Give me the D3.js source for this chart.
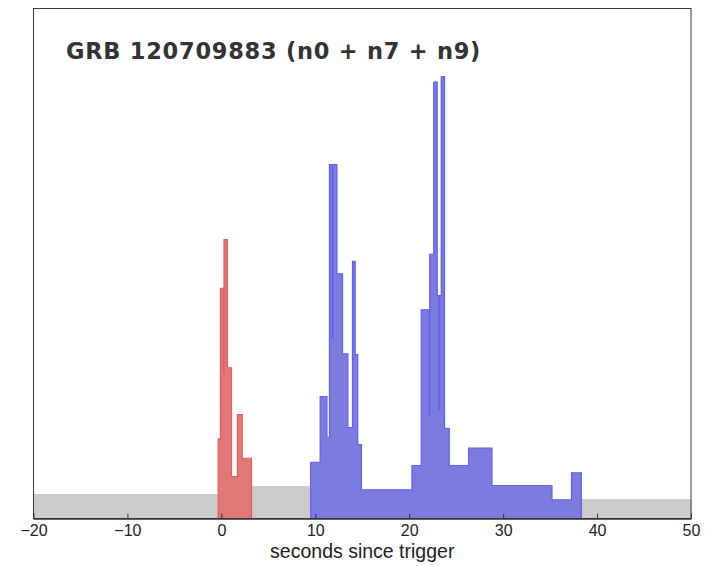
<!DOCTYPE html>
<html>
<head>
<meta charset="utf-8">
<script src="https://cdn.jsdelivr.net/npm/d3@7/dist/d3.min.js"></script>
<style>
  html, body { margin: 0; padding: 0; background: #ffffff; }
  svg { display: block; }
</style>
</head>
<body>
<svg id="chart" width="705" height="566"></svg>
<script>
// ---- data (time in seconds since trigger, counts in arbitrary rate units) ----
const title = "GRB 120709883 (n0 + n7 + n9)";
const xLabel = "seconds since trigger";
const xTicks = [-20, -10, 0, 10, 20, 30, 40, 50];

// background intervals (grey)
const bkgEdges = [[-20, -0.34], [3.21, 9.51], [38.32, 50]];
const bkgCounts = [96, 127, 75];

// first emission episode (red)
const redEdges  = [-0.34, -0.10, 0.22, 0.28, 0.65, 1.08, 1.71, 2.22, 3.21];
const redCounts = [319, 921, 580, 1116, 603, 168, 416, 241];

// second emission episode (blue)
const blueEdges = [9.51, 10.52, 11.24, 11.51, 11.81, 11.86, 12.30, 12.90, 13.47, 13.96, 14.25, 14.52, 14.92,
                   20.29, 21.28, 22.13, 22.18, 22.61, 22.98, 23.17, 23.23, 23.41, 23.76, 24.26, 26.32, 28.81, 35.20, 37.28, 38.32];
const blueCounts = [225, 488, 325, 1416, 725, 1416, 979, 659, 364, 1029, 656, 296, 115,
                    212, 835, 408, 1057, 1746, 892, 432, 892, 1768, 361, 212, 282, 132, 75, 183];

// ---- layout ----
const svg = d3.select("#chart");
const padL = 33.5, padR = 691, padT = 8.5, padB = 518.5;

const x = d3.scaleLinear().domain([-20, 50]).range([padL, padR]);
const y = d3.scaleLinear().domain([0, 2040]).range([padB, padT]);

function stepPoints(edges, counts) {
  const pts = counts.map((c, i) => [edges[i], c]);
  pts.push([edges[edges.length - 1], counts[counts.length - 1]]);
  return pts;
}

const area = d3.area()
  .x(d => x(d[0]))
  .y0(y(0))
  .y1(d => y(d[1]))
  .curve(d3.curveStepAfter);

// grey background
bkgEdges.forEach((e, i) => {
  svg.append("path")
    .datum([[e[0], bkgCounts[i]], [e[1], bkgCounts[i]]])
    .attr("d", area)
    .attr("fill", "#cccccc")
    .attr("stroke", "#c4c4c4")
    .attr("stroke-width", 1);
});

// red
svg.append("path")
  .datum(stepPoints(redEdges, redCounts))
  .attr("d", area)
  .attr("fill", "#e07878")
  .attr("stroke", "#e35d5d")
  .attr("stroke-width", 1.2);

// blue
svg.append("path")
  .datum(stepPoints(blueEdges, blueCounts))
  .attr("d", area)
  .attr("fill", "#7b7be0")
  .attr("stroke", "#5f5ff0")
  .attr("stroke-width", 1.2);

// frame
svg.append("rect")
  .attr("x", padL).attr("y", padT)
  .attr("width", padR - padL).attr("height", padB - padT)
  .attr("fill", "none")
  .attr("stroke", "#3a3a3a")
  .attr("stroke-width", 1);

// x axis
const xAxis = d3.axisBottom(x)
  .tickValues(xTicks)
  .tickSizeInner(-5)
  .tickSizeOuter(0)
  .tickPadding(6)
  .tickFormat(d => d3.format("d")(d).replace("-", "\u2212"));

const gx = svg.append("g")
  .attr("transform", `translate(0,${padB})`)
  .call(xAxis);
gx.select(".domain").attr("stroke", "#333").attr("stroke-width", 1.5);
gx.selectAll(".tick line").attr("stroke", "#333").attr("stroke-width", 1);
gx.selectAll(".tick text")
  .attr("font-family", "'Liberation Sans', Arial, sans-serif")
  .attr("font-size", 16)
  .attr("fill", "#222");

// x label
svg.append("text")
  .attr("x", (padL + padR) / 2)
  .attr("y", 557.5)
  .attr("text-anchor", "middle")
  .attr("font-family", "'Liberation Sans', Arial, sans-serif")
  .attr("font-size", 19.5)
  .attr("fill", "#222")
  .text(xLabel);

// title
svg.append("text")
  .attr("x", 66)
  .attr("y", 59)
  .attr("font-family", "'DejaVu Sans', Verdana, sans-serif")
  .attr("font-weight", "bold")
  .attr("font-size", 22.5)
  .attr("letter-spacing", 0.75)
  .attr("fill", "#333")
  .text(title);
</script>
</body>
</html>
